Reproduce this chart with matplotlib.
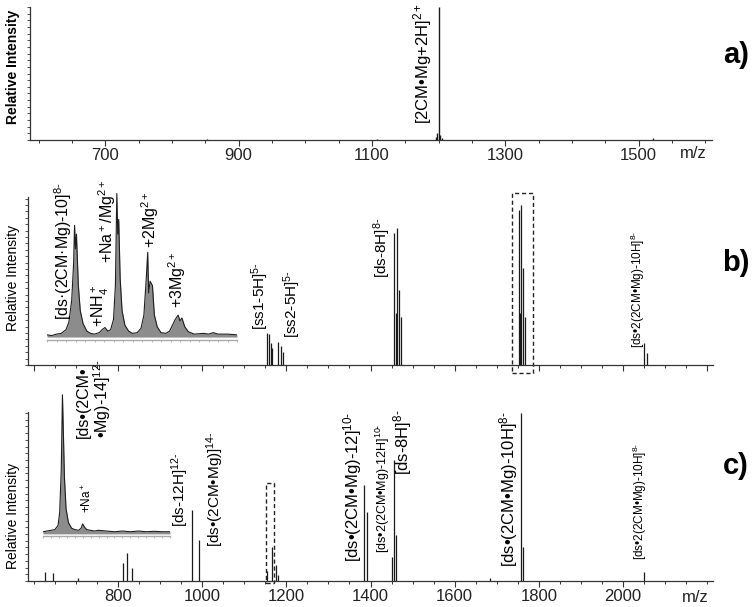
import matplotlib
matplotlib.use('Agg')
from matplotlib import pyplot as plt
from matplotlib.patches import Rectangle
from matplotlib.ticker import MultipleLocator, NullFormatter

plt.rcParams['font.family'] = ['Liberation Sans', 'DejaVu Sans']
plt.rcParams['mathtext.fontset'] = 'custom'
plt.rcParams['mathtext.rm'] = 'Liberation Sans'
plt.rcParams['mathtext.it'] = 'Liberation Sans:italic'
plt.rcParams['mathtext.bf'] = 'Liberation Sans:bold'
plt.rcParams['mathtext.default'] = 'regular'

# ---- data (m/z, relative intensity) ----
a_mz = [852, 1108, 1196, 1198, 1200, 1202, 1205, 1521]
a_int = [0.8, 0.6, 2.0, 5.0, 100.0, 4.0, 1.5, 1.5]

b_mz = [1154, 1159, 1164, 1166, 1180, 1187, 1192,
        1456, 1461, 1463, 1468, 1473,
        1753, 1755, 1758, 1762, 1767,
        2050, 2057]
b_int = [20.0, 19.4, 13.8, 10.6, 14.4, 11.9, 8.1,
         82.5, 32.5, 85.6, 46.9, 30.0,
         96.9, 32.5, 100.0, 60.6, 30.0,
         13.8, 7.5]

c_mz = [626, 646, 705, 812, 821, 833, 976, 992,
        1154, 1166, 1175, 1180, 1385, 1392,
        1451, 1456, 1461, 1684, 1758, 1762, 2050]
c_int = [5.4, 4.8, 1.8, 10.7, 16.7, 7.7, 42.3, 24.4,
         6.0, 20.2, 9.5, 3.6, 57.1, 41.1,
         14.3, 72.0, 27.4, 1.8, 100.0, 20.2, 5.4]

# zoomed profile, inset of b)
ib_mz = [1748.0, 1748.5, 1749.0, 1749.5, 1750.0, 1750.3, 1750.6, 1750.8, 1750.9, 1751.0,
         1751.1, 1751.3, 1751.5, 1751.8, 1752.2, 1752.6, 1753.0, 1753.5, 1753.8, 1754.1,
         1754.4, 1754.7, 1755.0, 1755.2, 1755.35, 1755.45, 1755.55, 1755.7, 1755.9, 1756.2,
         1756.6, 1757.0, 1757.5, 1757.9, 1758.2, 1758.45, 1758.6, 1758.7, 1758.85, 1759.1,
         1759.3, 1759.6, 1760.0, 1760.5, 1760.9, 1761.2, 1761.5, 1761.8, 1762.0, 1762.2,
         1762.5, 1762.9, 1763.5, 1764.5, 1765.0, 1765.5, 1766.0, 1767.0, 1768.0]
ib_int = [1.5, 1.0, 2.0, 2.5, 5.0, 10.0, 25.0, 50.0, 76.0, 60.0,
          70.0, 35.0, 18.0, 9.0, 4.0, 2.5, 2.0, 3.0, 5.0, 6.5,
          4.0, 5.0, 12.0, 35.0, 97.6, 70.0, 80.0, 40.0, 18.0, 8.0,
          4.0, 2.5, 3.0, 6.0, 15.0, 40.0, 57.6, 30.0, 38.0, 35.0,
          15.0, 7.0, 3.0, 2.5, 4.0, 8.0, 12.0, 14.9, 11.0, 13.0,
          7.0, 3.5, 2.0, 2.5, 2.0, 3.0, 2.0, 2.0, 1.5]

# zoomed profile, inset of c)
ic_mz = [1152.0, 1152.5, 1153.0, 1153.5, 1153.9, 1154.1, 1154.3, 1154.45, 1154.55, 1154.7,
         1154.9, 1155.2, 1155.6, 1156.0, 1156.5, 1156.8, 1157.0, 1157.2, 1157.5, 1158.0,
         1158.5, 1159.0, 1160.0, 1161.0, 1162.0, 1163.0, 1164.0, 1165.0, 1166.0, 1167.0, 1168.0]
ic_int = [1.5, 2.0, 2.5, 3.0, 6.0, 15.0, 45.0, 98.0, 75.0, 40.0,
          18.0, 8.0, 4.0, 3.0, 2.5, 4.0, 7.0, 5.0, 3.0, 2.5,
          2.0, 2.5, 2.0, 1.5, 2.0, 1.5, 2.0, 1.5, 1.8, 1.5, 1.5]

a_label = r'[2CM•Mg+2H]$^{2+}$'
b_labels = [r'[ss1-5H]$^{5\text{-}}$', r'[ss2-5H]$^{5\text{-}}$', r'[ds-8H]$^{8\text{-}}$',
            r'[ds•2(2CM•Mg)-10H]$^{8\text{-}}$']
ib_labels = [r'[ds·(2CM·Mg)-10]$^{8\text{-}}$', r'+NH$_4^+$', r'+Na$^+$/Mg$^{2+}$',
             r'+2Mg$^{2+}$', r'+3Mg$^{2+}$']
c_labels = [r'[ds-12H]$^{12\text{-}}$', r'[ds•(2CM•Mg)]$^{14\text{-}}$',
            r'[ds•(2CM•Mg)-12]$^{10\text{-}}$', r'[ds•2(2CM•Mg)-12H]$^{10\text{-}}$',
            r'[ds-8H]$^{8\text{-}}$', r'[ds•(2CM•Mg)-10H]$^{8\text{-}}$',
            r'[ds•2(2CM•Mg)-10H]$^{8\text{-}}$']
ic_labels = ['[ds•(2CM•\n•Mg)-14]$^{12\\text{-}}$', r'+Na$^+$']

W, H = 753, 607
fig = plt.figure(figsize=(W / 100, H / 100), dpi=100)


def box(l, t, r, b):
    # pixel box -> figure fraction
    return [l / W, 1 - b / H, (r - l) / W, (b - t) / H]


def style_main(ax, xmin, xmax, ymax, ystep, labels=True):
    ax.set_xlim(xmin, xmax)
    ax.set_ylim(0, ymax)
    ax.set_facecolor('none')
    for s in ['top', 'right']:
        ax.spines[s].set_visible(False)
    for s in ['left', 'bottom']:
        ax.spines[s].set_color('#333333')
        ax.spines[s].set_linewidth(0.9)
    ax.xaxis.set_major_locator(MultipleLocator(200))
    ax.xaxis.set_minor_locator(MultipleLocator(50))
    ax.yaxis.set_major_locator(MultipleLocator(ystep))
    ax.yaxis.set_major_formatter(NullFormatter())
    ax.tick_params(axis='x', which='major', length=4, width=0.8, pad=2, labelsize=12,
                   colors='#333333', labelcolor='#222222')
    ax.tick_params(axis='x', which='minor', length=2.5, width=0.7, colors='#333333')
    ax.tick_params(axis='y', which='major', length=2.5, width=0.6, colors='#333333')
    if not labels:
        ax.xaxis.set_major_formatter(NullFormatter())


def style_inset(ax, xmin, xmax, ymin, ymax):
    ax.set_xlim(xmin, xmax)
    ax.set_ylim(ymin, ymax)
    ax.set_facecolor('none')
    for s in ['top', 'right', 'left']:
        ax.spines[s].set_visible(False)
    ax.spines['bottom'].set_color('#aaaaaa')
    ax.spines['bottom'].set_linewidth(1.0)
    ax.set_yticks([])
    ax.xaxis.set_major_locator(MultipleLocator(1))
    ax.xaxis.set_major_formatter(NullFormatter())
    ax.tick_params(axis='x', length=1.5, width=0.6, colors='#aaaaaa')


# ---------- a) ----------
ax_a = fig.add_axes(box(30, 7, 712, 140))
style_main(ax_a, 587, 1610, 100, 5)
ax_a.xaxis.set_major_locator(MultipleLocator(200, offset=100))
ax_a.vlines(a_mz, 0, a_int, color='#1a1a1a', lw=1.0)
ax_a.text(1176, 12, a_label, rotation=90, ha='center', va='bottom', fontsize=12, clip_on=False)

# ---------- b) ----------
ax_b = fig.add_axes(box(28, 197, 713, 365))
style_main(ax_b, 586, 2214, 105, 4, labels=False)
ax_b.vlines(b_mz, 0, b_int, color='#1a1a1a', lw=0.9)
b_pos = [(1137, 21.9, 11), (1213, 16.9, 11), (1427, 54.4, 11), (2036, 10.6, 8.5)]
for txt, (x, y, fs) in zip(b_labels, b_pos):
    ax_b.text(x, y, txt, rotation=90, ha='center', va='bottom', fontsize=fs)
ax_b.add_patch(Rectangle((1736, -5), 50, 112.5, fill=False, ls=(0, (3, 2)), lw=1.0,
                         ec='#222222', clip_on=False))

ax_ib = fig.add_axes(box(47, 190, 237, 340))
style_inset(ax_ib, 1748, 1768, -2, 100)
ax_ib.fill_between(ib_mz, 0, ib_int, color='#8c8c8c', lw=0)
ax_ib.plot(ib_mz, ib_int, color='#1e1e1e', lw=0.8)
ib_pos = [(1749.7, 11.6), (1753.6, 6.8), (1754.3, 50.3), (1758.9, 60.5), (1761.7, 19.7)]
for txt, (x, y) in zip(ib_labels, ib_pos):
    ax_ib.text(x, y, txt, rotation=90, ha='center', va='bottom', fontsize=11.5, clip_on=False)

# ---------- c) ----------
ax_c = fig.add_axes(box(28, 412, 713, 581))
style_main(ax_c, 586, 2214, 100.6, 4)
ax_c.set_xticks([800, 1000, 1200, 1400, 1600, 1800, 2000])
ax_c.vlines(c_mz, 0, c_int, color='#1a1a1a', lw=0.9)
c_pos = [(947, 32.1, 11), (1031, 20.2, 11), (1358, 11.3, 12), (1430, 16.7, 9),
         (1475, 63.1, 12), (1727, 8.3, 12), (2040, 12.5, 8.5)]
for txt, (x, y, fs) in zip(c_labels, c_pos):
    ax_c.text(x, y, txt, rotation=90, ha='center', va='bottom', fontsize=fs)
ax_c.add_patch(Rectangle((1152, -1.2), 19, 59.5, fill=False, ls=(0, (3, 2)), lw=1.0,
                         ec='#222222', clip_on=False))

ax_ic = fig.add_axes(box(43, 392, 170, 536))
style_inset(ax_ic, 1152, 1168, -1.5, 100)
ax_ic.fill_between(ic_mz, 0, ic_int, color='#8c8c8c', lw=0)
ax_ic.plot(ic_mz, ic_int, color='#1e1e1e', lw=0.8)
ax_ic.text(1158.5, 67.7, ic_labels[0], rotation=90, ha='center', va='bottom', fontsize=11.5,
           multialignment='left', linespacing=1.0, clip_on=False)
ax_ic.text(1157.5, 14.8, ic_labels[1], rotation=90, ha='center', va='bottom', fontsize=8.5,
           clip_on=False)

# ---------- axis titles / panel letters ----------
fig.text(13 / W, 1 - 67 / H, 'Relative Intensity', rotation=90, ha='center', va='center',
         fontsize=10, fontweight='bold')
fig.text(13 / W, 1 - 278 / H, 'Relative Intensity', rotation=90, ha='center', va='center',
         fontsize=10)
fig.text(13 / W, 1 - 516 / H, 'Relative Intensity', rotation=90, ha='center', va='center',
         fontsize=10)
fig.text(693 / W, 1 - 153 / H, 'm/z', ha='center', va='center', fontsize=12, color='#222222')
fig.text(695 / W, 1 - 597 / H, 'm/z', ha='center', va='center', fontsize=12, color='#222222')
for letter, y in [('a)', 55), ('b)', 263), ('c)', 466)]:
    fig.text(736 / W, 1 - y / H, letter, ha='center', va='center', fontsize=21, fontweight='bold')

fig.savefig('out.png', dpi=100)
